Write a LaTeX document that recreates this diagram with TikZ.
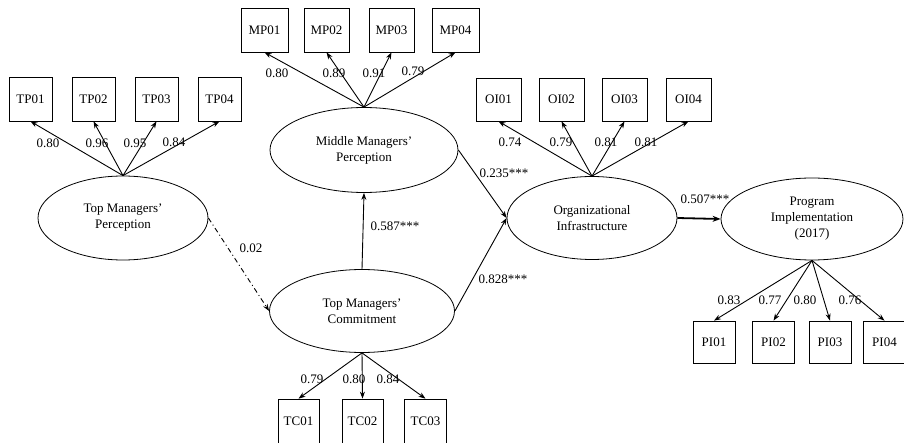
\documentclass[tikz,border=0pt]{standalone}
\usepackage{fontspec}
\setmainfont{Liberation Serif}
\usetikzlibrary{shapes.geometric, arrows.meta, positioning}
\tikzstyle{item} = [rectangle, minimum width=43pt, minimum height=44pt, inner sep=0pt, text centered, draw=black, line width=0.7pt, font=\fontsize{13}{16}\selectfont]
\tikzstyle{latent} = [ellipse, minimum width=170pt, minimum height=84pt, inner sep=0pt, align=center, draw=black, line width=0.8pt, font=\fontsize{13}{16}\selectfont]
\tikzstyle{coef} = [inner sep=1pt, font=\fontsize{13}{16}\selectfont]
\tikzstyle{arrow} = [line width=0.9pt, -{Stealth[length=7pt,width=5pt]}]

\begin{document}
\begin{tikzpicture}[x=1pt, y=-1pt, node distance=63pt]
\useasboundingbox (0,0) rectangle (904,443);

% latent variables
\node (TP) [latent] at (123,218) {Top Managers'\\Perception};
\node (MP) [latent, minimum width=188pt, minimum height=85pt] at (364,150) {Middle Managers'\\Perception};
\node (TC) [latent, minimum width=185pt, minimum height=83pt] at (362,311) {Top Managers'\\Commitment};
\node (OI) [latent, minimum height=83pt] at (592,218) {Organizational\\Infrastructure};
\node (PI) [latent, minimum width=182pt, minimum height=82pt] at (812,219) {Program\\Implementation\\(2017)};

% indicators of TP
\node (TP01) [item] at (30.5,99) {TP01};
\node (TP02) [item, right of=TP01] {TP02};
\node (TP03) [item, right of=TP02] {TP03};
\node (TP04) [item, right of=TP03] {TP04};

\draw[arrow] (TP.north) -- (TP01.south);
\draw[arrow] (TP.north) -- (TP02.south);
\draw[arrow] (TP.north) -- (TP03.south);
\draw[arrow] (TP.north) -- (TP04.south);

\node (cTP1) [coef] at (48,143) {0.80};
\node (cTP2) [coef] at (97,143) {0.96};
\node (cTP3) [coef] at (135,143) {0.95};
\node (cTP4) [coef] at (174,142) {0.84};

% indicators of MP
\node (MP01) [item, minimum width=47pt] at (264.5,30) {MP01};
\node (MP02) [item, minimum width=45pt, right of=MP01, xshift=-1pt] {MP02};
\node (MP03) [item, minimum width=45pt, right of=MP02, xshift=2pt] {MP03};
\node (MP04) [item, minimum width=47pt, right of=MP03, xshift=1pt] {MP04};

\draw[arrow] (MP.north) -- (MP01.south);
\draw[arrow] (MP.north) -- (MP02.south);
\draw[arrow] (MP.north) -- (MP03.south);
\draw[arrow] (MP.north) -- (MP04.south);

\node (cMP1) [coef] at (277,73) {0.80};
\node (cMP2) [coef] at (334,73) {0.89};
\node (cMP3) [coef] at (374,73) {0.91};
\node (cMP4) [coef] at (413,71) {0.79};

% indicators of OI
\node (OI01) [item, minimum width=45pt, minimum height=43pt] at (498.5,99.5) {OI01};
\node (OI02) [item, minimum width=45pt, minimum height=43pt, right of=OI01] {OI02};
\node (OI03) [item, minimum width=45pt, minimum height=43pt, right of=OI02] {OI03};
\node (OI04) [item, minimum width=45pt, minimum height=43pt, right of=OI03, xshift=1pt] {OI04};

\draw[arrow] (OI.north) -- (OI01.south);
\draw[arrow] (OI.north) -- (OI02.south);
\draw[arrow] (OI.north) -- (OI03.south);
\draw[arrow] (OI.north) -- (OI04.south);

\node (cOI1) [coef] at (510,142) {0.74};
\node (cOI2) [coef] at (561,142) {0.79};
\node (cOI3) [coef] at (606,142) {0.81};
\node (cOI4) [coef] at (646,142) {0.81};

% indicators of TC
\node (TC01) [item, minimum width=41pt] at (298.5,421) {TC01};
\node (TC02) [item, minimum width=41pt, right of=TC01, xshift=1pt] {TC02};
\node (TC03) [item, minimum width=42pt, right of=TC02] {TC03};

\draw[arrow] (TC.south) -- (TC01.north);
\draw[arrow] (TC.south) -- (TC02.north);
\draw[arrow] (TC.south) -- (TC03.north);

\node (cTC1) [coef] at (312,379) {0.79};
\node (cTC2) [coef] at (354,379) {0.80};
\node (cTC3) [coef] at (388,379) {0.84};

% indicators of PI
\node (PI01) [item, minimum width=42pt, minimum height=42pt] at (714,342) {PI01};
\node (PI02) [item, minimum width=42pt, minimum height=42pt, right of=PI01, xshift=-3.5pt] {PI02};
\node (PI03) [item, minimum width=42pt, minimum height=42pt, right of=PI02, xshift=-6.5pt] {PI03};
\node (PI04) [item, minimum width=42pt, minimum height=42pt, right of=PI03, xshift=-8.5pt] {PI04};

\draw[arrow] (PI.south) -- (PI01.north);
\draw[arrow] (PI.south) -- (PI02.north);
\draw[arrow] (PI.south) -- (PI03.north);
\draw[arrow] (PI.south) -- (PI04.north);

\node (cPI1) [coef] at (729,300) {0.83};
\node (cPI2) [coef] at (770,300) {0.77};
\node (cPI3) [coef] at (805,300) {0.80};
\node (cPI4) [coef] at (850,300) {0.76};

% structural paths
\draw[arrow, dash pattern=on 5pt off 3pt on 1pt off 3pt] (TP.east) -- (TC.west);
\node (cTPTC) [coef] at (251,248) {0.02};

\draw[arrow] (TC.north) -- (MP.south);
\node (cTCMP) [coef] at (395,226) {0.587***};

\draw[arrow] (MP.east) -- (OI.west);
\node (cMPOI) [coef] at (504,173) {0.235***};

\draw[arrow] (TC.east) -- (OI.west);
\node (cTCOI) [coef] at (503,279) {0.828***};

\draw[arrow, line width=1.8pt, -{Stealth[length=8pt,width=6pt]}] (OI.east) -- (PI.west);
\node (cOIPI) [coef] at (705,199) {0.507***};

\end{tikzpicture}
\end{document}
